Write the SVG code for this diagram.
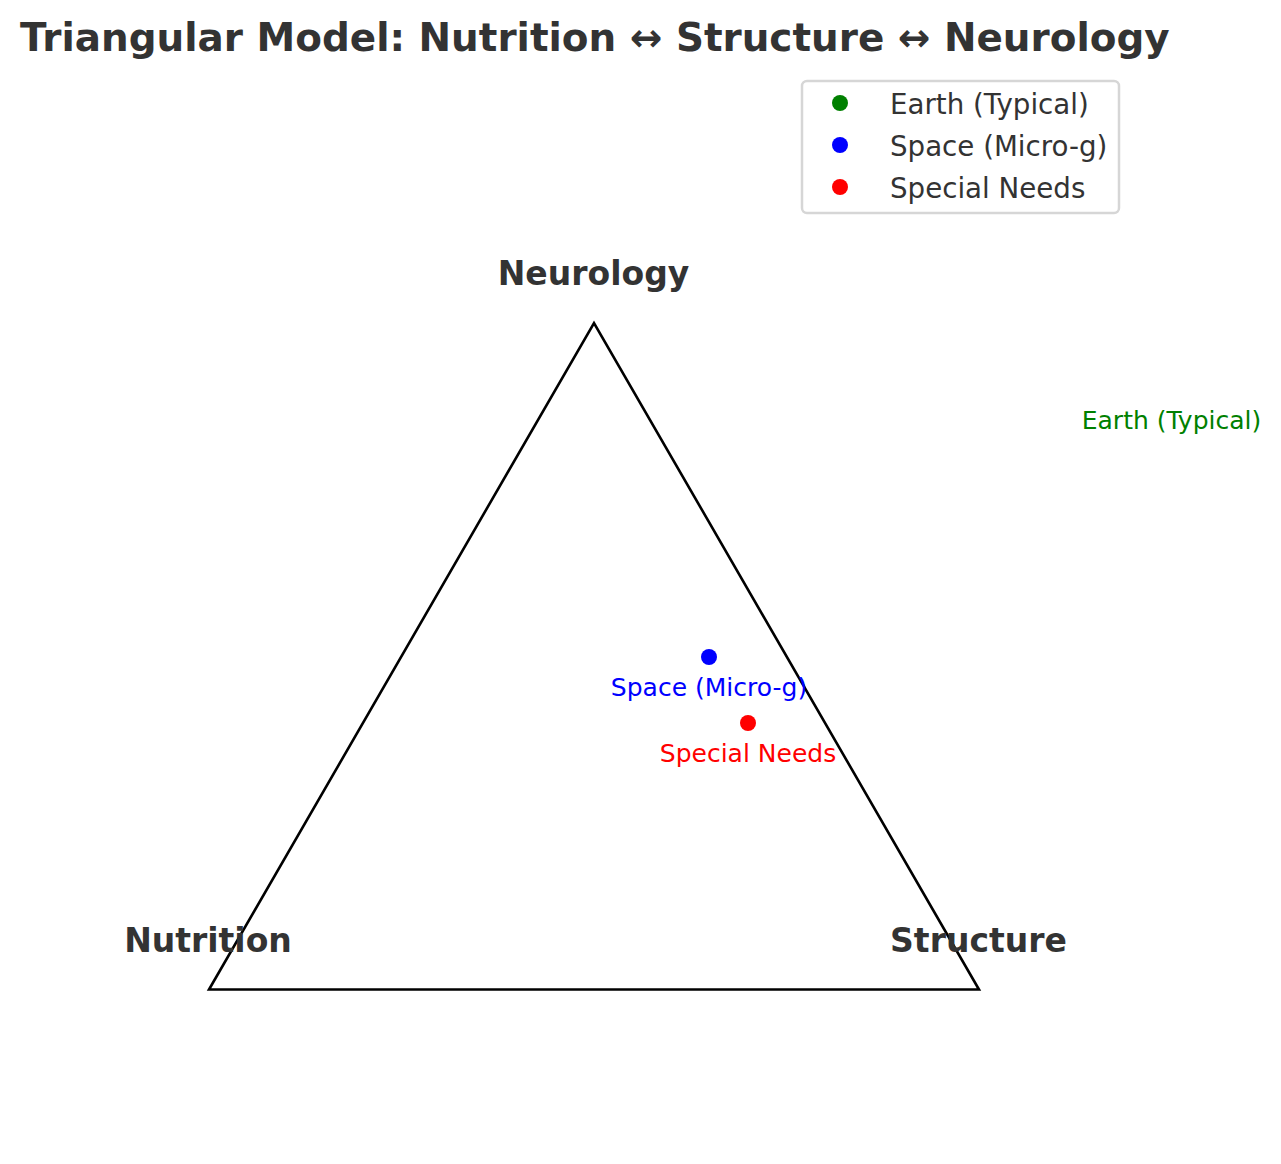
<svg xmlns="http://www.w3.org/2000/svg" width="1281" height="1164" viewBox="0 0 1281 1164">
<style>
text{font-family:"DejaVu Sans","Liberation Sans",sans-serif;}
.title{font-size:38.9px;font-weight:bold;fill:#333333;}
.vlabel{font-size:33px;font-weight:bold;fill:#333333;text-anchor:middle;}
.plabel{font-size:25px;text-anchor:middle;}
.legtext{font-size:27.7px;fill:#333333;}
</style>
<rect width="1281" height="1164" fill="#ffffff"/>
<text class="title" x="20" y="51">Triangular Model: Nutrition ↔ Structure ↔ Neurology</text>
<g id="connectors">
<polygon points="209,989.5 979,989.5 594,323" fill="none" stroke="#000000" stroke-width="2.6" stroke-linejoin="miter"/>
</g>
<g id="neurology"><text class="vlabel" x="593.5" y="285">Neurology</text></g>
<g id="nutrition"><text class="vlabel" x="208" y="952">Nutrition</text></g>
<g id="structure"><text class="vlabel" x="978.5" y="952">Structure</text></g>
<g id="earth"><text class="plabel" x="1171.5" y="429" fill="#008000">Earth (Typical)</text></g>
<g id="space"><circle cx="709" cy="657" r="8" fill="#0000ff"/><text class="plabel" x="709" y="696" fill="#0000ff">Space (Micro-g)</text></g>
<g id="special"><circle cx="748" cy="723" r="8" fill="#ff0000"/><text class="plabel" x="748" y="762" fill="#ff0000">Special Needs</text></g>
<g id="legend">
<rect x="802" y="81" width="317" height="132" rx="5" fill="#ffffff" stroke="#d6d6d6" stroke-width="2.5"/>
<circle cx="840" cy="103" r="8" fill="#008000"/>
<circle cx="840" cy="145" r="8" fill="#0000ff"/>
<circle cx="840" cy="187" r="8" fill="#ff0000"/>
<text class="legtext" x="890" y="114">Earth (Typical)</text>
<text class="legtext" x="890" y="156">Space (Micro-g)</text>
<text class="legtext" x="890" y="198">Special Needs</text>
</g>
</svg>
